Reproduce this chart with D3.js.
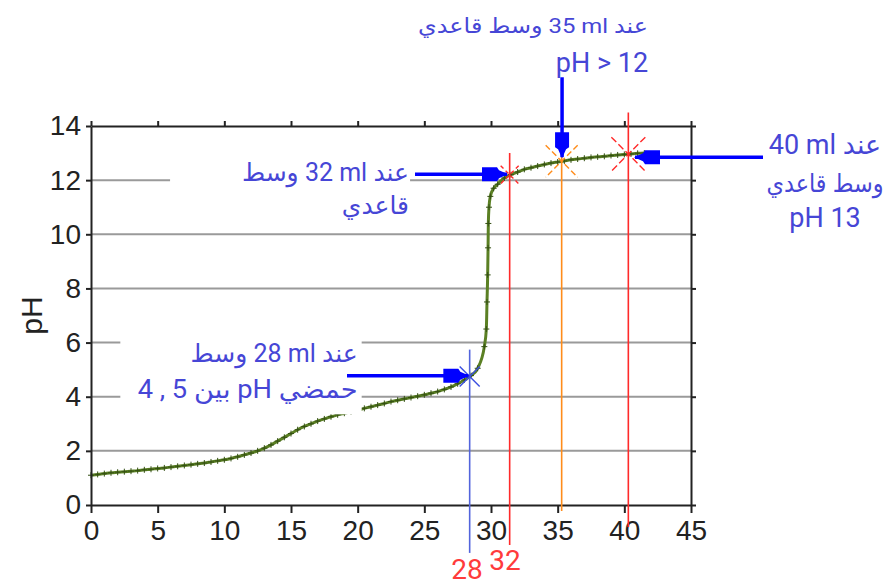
<!DOCTYPE html>
<html lang="ar">
<head>
<meta charset="UTF-8">
<title>منحنى معايرة pH</title>
<style>
  body { margin: 0; background: #fff; }
  .axis path, .axis line { fill: none; stroke: #222; stroke-width: 2; }
  .axis text { font-family: "Liberation Sans", Arial, sans-serif; font-size: 28px; fill: #222; }
  .grid line { stroke: #9a9a9a; stroke-width: 2; }
  .note { font-family: Roboto, "DejaVu Sans", sans-serif; fill: #4646d6; }
  .narrow { font-family: Roboto, "DejaVu Sans Condensed", "DejaVu Sans", sans-serif; }
</style>
</head>
<body>
<script src="https://d3js.org/d3.v7.min.js"></script>
<script>
// volume ajouté (ml) et pH
var volume = [0, 0.5, 1, 1.5, 2, 2.5, 3, 3.5, 4, 4.5, 5, 5.5, 6, 6.5, 7, 7.5, 8, 8.5, 9, 9.5,
  10, 10.5, 11, 11.5, 12, 12.5, 13, 13.5, 14, 14.5, 15, 15.5, 16, 16.5, 17, 17.5, 18, 18.5, 19, 19.5,
  20, 20.5, 21, 21.5, 22, 22.5, 23, 23.5, 24, 24.5, 25, 25.5, 26, 26.5, 27, 27.5, 28, 28.5, 29, 29.5,
  29.65, 29.7, 29.75, 29.78, 29.8, 29.85, 29.95, 30.2, 30.5, 31, 31.5, 32, 32.5, 33, 33.5, 34, 34.5,
  35, 35.5, 36, 36.5, 37, 37.5, 38, 38.5, 39, 39.5, 40, 40.5, 41, 41.5];
var ph = [1.10, 1.13, 1.16, 1.19, 1.21, 1.23, 1.25, 1.27, 1.30, 1.32, 1.35, 1.37, 1.40, 1.43, 1.46, 1.49, 1.52, 1.55, 1.59, 1.63,
  1.67, 1.72, 1.78, 1.85, 1.92, 2.00, 2.10, 2.22, 2.36, 2.50, 2.64, 2.78, 2.90, 3.00, 3.10, 3.18, 3.26, 3.33, 3.39, 3.45,
  3.50, 3.57, 3.63, 3.69, 3.75, 3.82, 3.87, 3.92, 3.97, 4.02, 4.07, 4.13, 4.19, 4.27, 4.36, 4.48, 4.62, 4.78, 5.05, 5.85,
  6.5, 7.5, 8.5, 9.5, 10.4, 11.0, 11.4, 11.7, 11.85, 12.08, 12.2, 12.3, 12.4, 12.46, 12.52, 12.58, 12.63,
  12.67, 12.71, 12.75, 12.78, 12.81, 12.84, 12.86, 12.88, 12.91, 12.93, 12.95, 12.97, 12.99, 13.0];
var xTicks = [0, 5, 10, 15, 20, 25, 30, 35, 40, 45];
var yTicks = [0, 2, 4, 6, 8, 10, 12, 14];
var gridValues = [2, 4, 6, 8, 10, 12];
// volumes repérés par les droites verticales
var markVolumes = [28.4, 31.4, 35.3, 40.3];
var markLabels = ["28", "32"];

var width = 887, height = 585;
var svg = d3.select('body').append('svg').attr('width', width).attr('height', height);

var x = d3.scaleLinear().domain([0, 45]).range([91, 691]);
var y = d3.scaleLinear().domain([0, 14]).range([505, 126]);

// mots en ordre visuel gauche -> droite, LRM entre chaque mot
function visual(tokens) { return tokens.join(" \u200E"); }

var defs = svg.append('defs');
defs.append('marker').attr('id', 'head')
  .attr('markerUnits', 'userSpaceOnUse')
  .attr('viewBox', '-26 -8 28 16').attr('refX', 0).attr('refY', 0)
  .attr('markerWidth', 28).attr('markerHeight', 16).attr('orient', 'auto')
  .append('path').attr('d', 'M1,0 L-8,-4 L-10,-7 L-25,-7 L-25,7 L-10,7 L-8,4 Z').attr('fill', '#0000ff');

// grille
svg.append('g').attr('class', 'grid').selectAll('line').data(gridValues).enter().append('line')
  .attr('x1', x(0)).attr('x2', x(45))
  .attr('y1', function (d) { return y(d); }).attr('y2', function (d) { return y(d); });

// courbe
var line = d3.line().x(function (d) { return x(d[0]); }).y(function (d) { return y(d[1]); })
  .curve(d3.curveMonotoneX);
var pts = volume.map(function (v, i) { return [v, ph[i]]; });
svg.append('path').datum(pts).attr('d', line)
  .attr('fill', 'none').attr('stroke', '#5b8024').attr('stroke-width', 3);
svg.append('g').selectAll('path').data(pts).enter().append('path')
  .attr('d', function (d) { var px = x(d[0]), py = y(d[1]); return 'M' + (px - 3) + ',' + py + 'H' + (px + 3) + 'M' + px + ',' + (py - 3) + 'V' + (py + 3); })
  .attr('stroke', '#344f14').attr('stroke-width', 1);

// fonds blancs des étiquettes
var boxes = [[2.2, 6.41, 20.3, 3.35], [5.93, 12.74, 23.93, 10.23]];
svg.append('g').selectAll('rect').data(boxes).enter().append('rect')
  .attr('x', function (d) { return x(d[0]); }).attr('y', function (d) { return y(d[1]); })
  .attr('width', function (d) { return x(d[2]) - x(d[0]); })
  .attr('height', function (d) { return y(d[3]) - y(d[1]); })
  .attr('fill', '#fff');

// axes
svg.append('g').attr('class', 'axis').attr('transform', 'translate(0,' + y(0) + ')')
  .call(d3.axisBottom(x).tickValues(xTicks).tickSize(8).tickSizeOuter(0).tickPadding(7));
svg.append('g').attr('class', 'axis').attr('transform', 'translate(' + x(0) + ',0)')
  .call(d3.axisLeft(y).tickValues(yTicks).tickSize(5).tickSizeOuter(0).tickPadding(5));
svg.append('g').attr('class', 'axis').attr('transform', 'translate(0,' + y(14) + ')')
  .call(d3.axisTop(x).tickValues(xTicks).tickSize(5).tickSizeOuter(0).tickFormat(''));
svg.append('g').attr('class', 'axis').attr('transform', 'translate(' + x(45) + ',0)')
  .call(d3.axisRight(y).tickValues(yTicks).tickSize(5).tickSizeOuter(0).tickFormat(''));

svg.append('text').attr('transform', 'translate(42,' + y(7) + ') rotate(-90)')
  .attr('text-anchor', 'middle').attr('font-family', '"Liberation Sans", Arial, sans-serif')
  .attr('font-size', 30).attr('fill', '#222').text('pH');

// droites verticales
var vlines = [
  { v: markVolumes[0], top: 5.74, bottom: -1.77, color: '#5264dc' },
  { v: markVolumes[1], top: 13.0, bottom: -1.48, color: '#ff2a2a' },
  { v: markVolumes[2], top: 13.04, bottom: -0.22, color: '#ff8c1a' },
  { v: markVolumes[3], top: 14.5, bottom: -0.81, color: '#ff2a2a' }
];
svg.append('g').selectAll('line').data(vlines).enter().append('line')
  .attr('x1', function (d) { return x(d.v); }).attr('x2', function (d) { return x(d.v); })
  .attr('y1', function (d) { return y(d.top); }).attr('y2', function (d) { return y(d.bottom); })
  .attr('stroke', function (d) { return d.color; }).attr('stroke-width', 1.6);

svg.append('g').selectAll('text').data([[28.2, -2.75], [31.05, -2.4]]).enter().append('text')
  .attr('x', function (d) { return x(d[0]); }).attr('y', function (d) { return y(d[1]); })
  .attr('text-anchor', 'middle').attr('font-family', 'Roboto, sans-serif').attr('font-size', 28)
  .attr('fill', '#ff3b3b').text(function (d, i) { return markLabels[i]; });

// étoiles aux points repérés
var stars = [
  { v: 28.4, p: 4.75, r: 10, color: '#3b4fe0', dash: null },
  { v: 31.4, p: 12.2, r: 9, color: '#ff2a2a', dash: '4,3' },
  { v: 35.3, p: 12.7, r: 16, color: '#ff8c1a', dash: '6,3' },
  { v: 40.3, p: 12.96, r: 17, color: '#ff2a2a', dash: '7,3' }
];
stars.forEach(function (s) {
  var cx = x(s.v), cy = y(s.p), r = s.r;
  svg.append('path')
    .attr('d', 'M' + (cx - r) + ',' + (cy - r) + 'L' + (cx + r) + ',' + (cy + r) + 'M' + (cx + r) + ',' + (cy - r) + 'L' + (cx - r) + ',' + (cy + r))
    .attr('stroke', s.color).attr('stroke-width', 1.4).attr('fill', 'none')
    .attr('stroke-dasharray', s.dash);
});

// flèches
var arrows = [
  [19.2, 4.77, 28.3, 4.77],
  [24.3, 12.22, 31.2, 12.22],
  [35.33, 15.8, 35.33, 12.85],
  [50.4, 12.85, 40.8, 12.85]
];
svg.append('g').selectAll('line').data(arrows).enter().append('line')
  .attr('x1', function (d) { return x(d[0]); }).attr('y1', function (d) { return y(d[1]); })
  .attr('x2', function (d) { return x(d[2]); }).attr('y2', function (d) { return y(d[3]); })
  .attr('stroke', '#0000ff').attr('stroke-width', 3.5).attr('marker-end', 'url(#head)');

// textes (fit = largeur visée en px, facultatif)
var notes = [
  { v: 20.0, anchor: 'end', size: 25, lines: [[5.30, ['وسط', '28 ml', 'عند']], [3.96, ['4 , 5', 'بين', 'pH', 'حمضي'], 220]] },
  { v: 23.85, anchor: 'end', size: 25, lines: [[11.96, ['وسط', '32 ml', 'عند']], [10.74, ['قاعدي']]] },
  { v: 41.78, anchor: 'end', size: 21, lines: [[17.43, ['قاعدي', 'وسط', '35 ml', 'عند'], 230]] },
  { v: 41.78, anchor: 'end', size: 27, lines: [[15.99, ['pH > 12']]] },
  { v: 55.05, anchor: 'middle', size: 27, lines: [[12.96, ['40 ml', 'عند']], [11.56, ['قاعدي', 'وسط'], 117, 25], [10.26, ['pH 13']]] }
];
notes.forEach(function (n) {
  n.lines.forEach(function (l) {
    var t = svg.append('text').attr('class', 'note')
      .attr('x', x(n.v)).attr('y', y(l[0]))
      .attr('text-anchor', n.anchor).attr('direction', 'ltr')
      .attr('font-size', l[3] || n.size).text(visual(l[1]));
    if (l[2]) t.attr('textLength', l[2]).attr('lengthAdjust', 'spacingAndGlyphs');
    if (l[3]) t.classed('narrow', true);
  });
});
</script>
</body>
</html>
